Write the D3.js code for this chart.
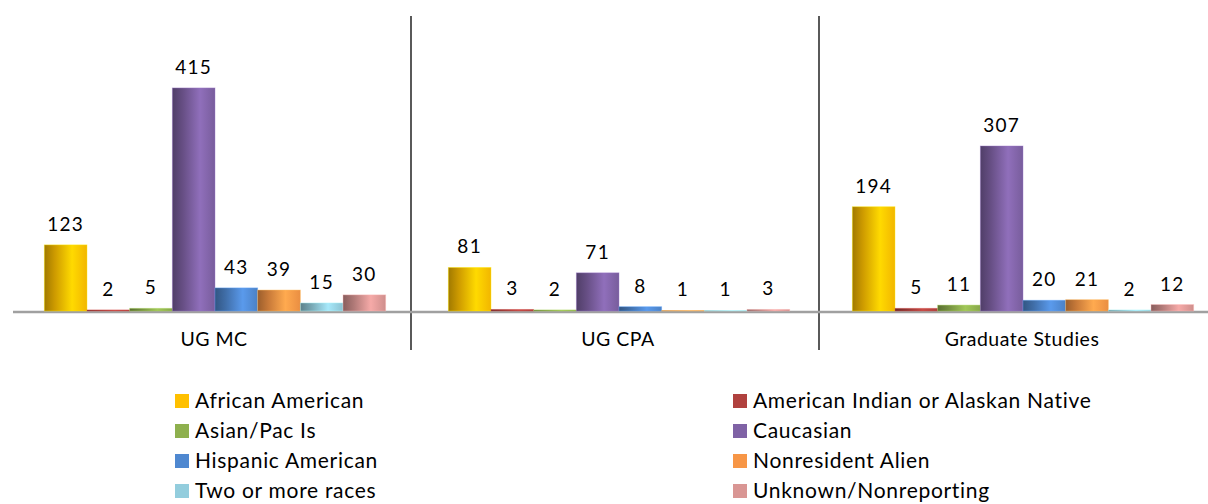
<!DOCTYPE html>
<html>
<head>
<meta charset="utf-8">
<script src="https://cdn.jsdelivr.net/npm/d3@7"></script>
<style>
  body { margin: 0; background: #fff; }
  svg { display: block; font-family: Lato, "Open Sans", sans-serif; }
</style>
</head>
<body>
<div class="chart"></div>
<script>
// data
var categories = ["UG MC", "UG CPA", "Graduate Studies"];
var seriesNames = ["African American", "American Indian or Alaskan Native", "Asian/Pac Is", "Caucasian",
    "Hispanic American", "Nonresident Alien", "Two or more races", "Unknown/Nonreporting"];
var africanAmerican = [123, 81, 194];
var americanIndian = [2, 3, 5];
var asianPac = [5, 2, 11];
var caucasian = [415, 71, 307];
var hispanic = [43, 8, 20];
var nonresident = [39, 1, 21];
var twoOrMore = [15, 1, 2];
var unknown = [30, 3, 12];
var seriesColors = ["#FFC000", "#B0413E", "#8EB04E", "#7F62A5", "#4F88D0", "#F79646", "#93CDDD", "#D99694"];

var seriesValues = [africanAmerican, americanIndian, asianPac, caucasian, hispanic, nonresident, twoOrMore, unknown];

var width = 1208, height = 504;
var baseY = 311;

var svg = d3.select(".chart").append("svg")
    .attr("width", width)
    .attr("height", height);

var defs = svg.append("defs");
seriesColors.forEach(function(c, i) {
    var col = d3.color(c);
    var g = defs.append("linearGradient")
        .attr("id", "grad" + i)
        .attr("x1", "0%").attr("x2", "100%").attr("y1", "0%").attr("y2", "0%");
    g.append("stop").attr("offset", "0%").attr("stop-color", col.darker(1.3));
    g.append("stop").attr("offset", "25%").attr("stop-color", col.darker(0.6));
    g.append("stop").attr("offset", "65%").attr("stop-color", col.brighter(0.35));
    g.append("stop").attr("offset", "100%").attr("stop-color", col.darker(0.15));
});

// scales
var x0 = d3.scaleBand().domain(categories).range([10, 1222]).padding(0);
var groupW = x0.bandwidth() * 0.845;
var x1 = d3.scaleBand().domain(d3.range(seriesNames.length)).range([0, groupW]).padding(0);
var y = d3.scaleLinear().domain([0, 560]).range([baseY, 10]);

// separators between categories
svg.append("g").selectAll("line")
    .data(categories.slice(1))
    .enter().append("line")
    .attr("x1", function(d, i) { return x0(d) - 3 + i * 4; })
    .attr("x2", function(d, i) { return x0(d) - 3 + i * 4; })
    .attr("y1", 16).attr("y2", 350)
    .attr("stroke", "#000").attr("stroke-width", 1.3);

// baseline
svg.append("line")
    .attr("x1", 13).attr("x2", width)
    .attr("y1", baseY + 1).attr("y2", baseY + 1)
    .attr("stroke", "#a0a0a0").attr("stroke-width", 2.5);

var groups = svg.append("g").selectAll("g")
    .data(categories)
    .enter().append("g")
    .attr("transform", function(d) {
        return "translate(" + (x0(d) + (x0.bandwidth() - groupW) / 2 + 3) + ",0)";
    });

var bars = groups.selectAll("g.bar")
    .data(function(d, ci) {
        return seriesValues.map(function(vals, si) { return {s: si, v: vals[ci]}; });
    })
    .enter().append("g").attr("class", "bar");

bars.append("rect")
    .attr("x", function(d) { return x1(d.s); })
    .attr("width", x1.bandwidth())
    .attr("y", function(d) { return y(d.v); })
    .attr("height", function(d) { return baseY - y(d.v); })
    .attr("fill", function(d) { return "url(#grad" + d.s + ")"; })
    .attr("stroke", function(d) { return d3.color(seriesColors[d.s]).brighter(0.6); })
    .attr("stroke-opacity", 0.5)
    .attr("stroke-width", 0.8);

bars.append("text")
    .attr("x", function(d) { return x1(d.s) + x1.bandwidth() / 2; })
    .attr("y", function(d) { return y(d.v) - 14; })
    .attr("text-anchor", "middle")
    .attr("font-size", 19)
    .attr("letter-spacing", 1.3)
    .attr("fill", "#000")
    .text(function(d) { return d.v; });

// category labels
svg.append("g").selectAll("text")
    .data(categories)
    .enter().append("text")
    .attr("x", function(d) { return x0(d) + x0.bandwidth() / 2 + 2; })
    .attr("y", 346)
    .attr("text-anchor", "middle")
    .attr("font-size", 19.5)
    .attr("letter-spacing", 0.5)
    .attr("fill", "#000")
    .text(function(d) { return d; });

// legend, two columns
var legend = svg.append("g").selectAll("g")
    .data(seriesNames)
    .enter().append("g")
    .attr("transform", function(d, i) {
        var col = i % 2, row = Math.floor(i / 2);
        return "translate(" + (175 + col * 558) + "," + (401 + row * 30) + ")";
    });

legend.append("rect")
    .attr("x", 0).attr("y", -7)
    .attr("width", 14).attr("height", 14)
    .attr("fill", function(d, i) { return seriesColors[i]; });

legend.append("text")
    .attr("x", 20).attr("y", 7)
    .attr("font-size", 21)
    .attr("letter-spacing", 0.7)
    .attr("fill", "#000")
    .text(function(d) { return d; });
</script>
</body>
</html>
